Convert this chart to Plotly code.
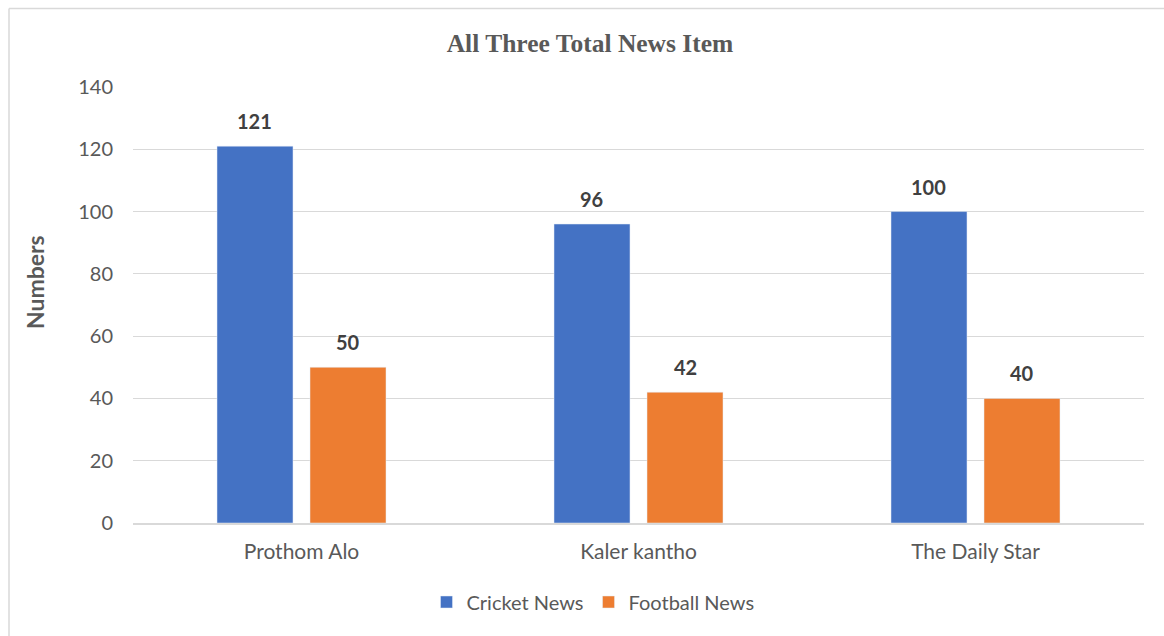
import plotly.graph_objects as go

categories = ["Prothom Alo", "Kaler kantho", "The Daily Star"]
cricket = [121, 96, 100]
football = [50, 42, 40]
series_names = ["Cricket News", "Football News"]
y_ticks = [0, 20, 40, 60, 80, 100, 120, 140]

W, H = 1164, 636
L, R, T, B = 133, 20, 87, 113
pw, ph = W - L - R, H - T - B

font_main = "Lato, Roboto, Arial"
txt = "#595959"
colors = ["#4472C4", "#ED7D31"]

fig = go.Figure()
for name, vals, col in zip(series_names, [cricket, football], colors):
    fig.add_trace(go.Bar(x=categories, y=vals, name=name, marker_color=col))

# data labels
slot = (1 - 0.448) * (pw / 3) / 2
annotations = []
for vals, sh in [(cricket, -slot / 2), (football, slot / 2)]:
    for c, v in zip(categories, vals):
        annotations.append(dict(x=c, y=v, xref="x", yref="y", text=f"<b>{v}</b>",
                                showarrow=False, xshift=sh, yshift=11, yanchor="bottom",
                                font=dict(family=font_main, size=20, color="#404040")))
annotations.append(dict(x=(35 - L) / pw, y=(T + ph - 282) / ph, xref="paper", yref="paper",
                        text="<b>Numbers</b>", textangle=-90, showarrow=False,
                        xanchor="center", yanchor="middle",
                        font=dict(family=font_main, size=23, color=txt)))

fig.update_layout(
    width=W, height=H,
    margin=dict(l=L, r=R, t=T, b=B),
    paper_bgcolor="white", plot_bgcolor="white",
    barmode="group", bargap=0.448, bargroupgap=0.183,
    title=dict(text="<b>All Three Total News Item</b>", x=(590 - L) / pw, xref="paper",
               xanchor="center", y=1 - 43 / H, yanchor="middle",
               font=dict(family="Liberation Serif, Times New Roman, serif", size=25.5, color=txt)),
    xaxis=dict(tickfont=dict(family=font_main, size=21, color=txt), showgrid=False,
               showline=True, linecolor="#D9D9D9", linewidth=1.5, ticks="", ticklen=0,
               ticklabelstandoff=9),
    yaxis=dict(range=[0, 140], tickvals=y_ticks, showgrid=True, gridcolor="#D9D9D9",
               gridwidth=1.2, zeroline=False, showline=False, ticks="", ticklabelstandoff=19,
               tickfont=dict(family=font_main, size=20, color=txt)),
    legend=dict(orientation="h", x=(593 - L) / pw, xanchor="center", y=-(602 - (T + ph)) / ph,
                yanchor="middle", font=dict(family=font_main, size=20, color=txt),
                itemwidth=30, traceorder="normal"),
    showlegend=True,
    annotations=annotations,
    shapes=[
        dict(type="line", xref="paper", yref="paper", x0=(9 - L) / pw, x1=(1170 - L) / pw,
             y0=(T + ph - 8.5) / ph, y1=(T + ph - 8.5) / ph, line=dict(color="#D9D9D9", width=1.5)),
        dict(type="line", xref="paper", yref="paper", x0=(9 - L) / pw, x1=(9 - L) / pw,
             y0=(T + ph - 8.5) / ph, y1=(T + ph - 640) / ph, line=dict(color="#D9D9D9", width=1.5)),
    ],
)

fig.write_html("out.html")
